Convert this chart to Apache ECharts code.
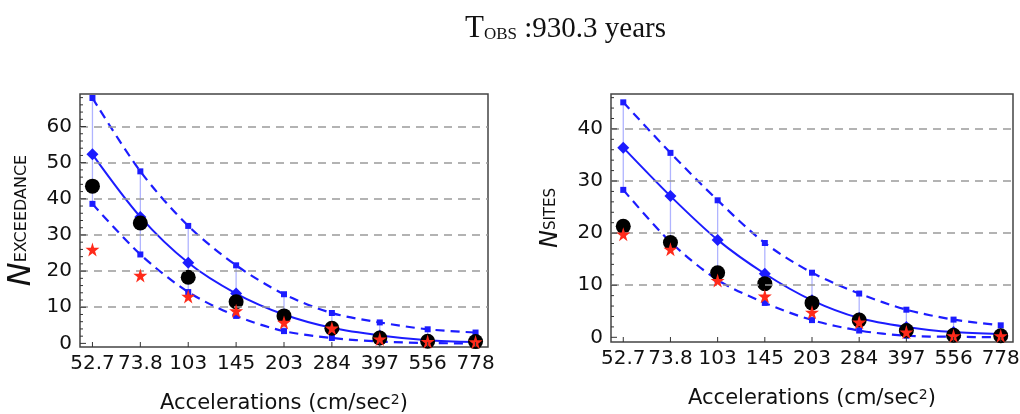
<!DOCTYPE html>
<html>
<head>
<meta charset="utf-8">
<script src="https://cdn.jsdelivr.net/npm/echarts@6/dist/echarts.min.js"></script>
<style>
html,body{margin:0;padding:0;background:#fff;}
#chart{width:1020px;height:414px;}
</style>
</head>
<body>
<div id="chart"></div>
<script>
const categories = ['52.7','73.8','103','145','203','284','397','556','778'];

// Left panel: N_EXCEEDANCE
const exMean  = [52.3, 35.0, 22.3, 13.8, 8.0, 4.3, 2.2, 0.9, 0.4];
const exUpper = [67.9, 47.6, 32.5, 21.6, 13.6, 8.4, 5.8, 3.9, 3.0];
const exLower = [38.6, 24.6, 14.2, 7.6, 3.4, 1.5, 0.5, 0.1, 0.0];
const exObs   = [43.5, 33.3, 18.3, 11.5, 7.6, 4.2, 1.5, 0.6, 0.5];
const exStar  = [26.0, 18.8, 13.0, 9.0, 5.8, 4.2, 1.2, 0.5, 0.4];
const exTicks = [0, 10, 20, 30, 40, 50, 60];
const exMinor = [2,4,6,8,12,14,16,18,22,24,26,28,32,34,36,38,42,44,46,48,52,54,56,58,62,64,66,68];
const exGrid  = [10, 20, 30, 40, 50, 60];

// Right panel: N_SITES
const stMean  = [36.4, 27.1, 18.7, 12.2, 7.1, 3.7, 2.0, 1.0, 0.6];
const stUpper = [45.1, 35.4, 26.3, 18.1, 12.4, 8.4, 5.3, 3.4, 2.3];
const stLower = [28.3, 18.3, 11.0, 6.6, 3.3, 1.3, 0.3, 0.1, 0.0];
const stObs   = [21.3, 18.2, 12.4, 10.3, 6.6, 3.3, 1.3, 0.4, 0.3];
const stStar  = [19.8, 16.9, 10.9, 7.9, 4.8, 2.9, 1.0, 0.3, 0.3];
const stTicks = [0, 10, 20, 30, 40];
const stMinor = [2,4,6,8,12,14,16,18,22,24,26,28,32,34,36,38,42,44,46];
const stGrid  = [10, 20, 30, 40];

const X_MIN = -0.26, X_MAX = 8.26;
const idx = categories.map((c, i) => i);
const pts = arr => arr.map((v, i) => [i, v]);
const STAR = 'path://M50,0 L61,35 L98,35 L68,57 L79,91 L50,70 L21,91 L32,57 L2,35 L39,35 Z';
const BLUE = '#1c1cff';
const FONT = 'DejaVu Sans';
const TXT = '#111';

function xAxisFor(g) {
  return {
    type: 'value', gridIndex: g, min: X_MIN, max: X_MAX,
    axisLine: { show: false },
    splitLine: { show: false },
    axisTick: { show: false },
    axisLabel: { customValues: idx, formatter: v => categories[Math.round(v)], fontSize: 20, fontFamily: FONT, color: TXT, margin: 7 },
    name: '{a|Accelerations (cm/sec}{b|2}{a|)}',
    nameLocation: 'middle', nameGap: 46,
    nameTextStyle: {
      rich: {
        a: { fontSize: 21, fontFamily: FONT, color: TXT },
        b: { fontSize: 14, fontFamily: FONT, color: TXT, verticalAlign: 'top', padding: [0, 0, 8, 0] }
      }
    }
  };
}
function yAxisFor(g, min, max, ticks, nameRich, gap) {
  return {
    type: 'value', gridIndex: g, min: min, max: max,
    axisLine: { show: false },
    splitLine: { show: false },
    axisTick: { show: false },
    axisLabel: { customValues: ticks, fontSize: 20, fontFamily: FONT, color: TXT, margin: 8 },
    name: nameRich.text, nameLocation: 'middle', nameGap: gap,
    nameTextStyle: { rich: nameRich.rich }
  };
}

// tick marks drawn through the axes' own coordinate conversion
function tickSeries(gi, yMin, majors, minors) {
  const data = [];
  majors.forEach(v => data.push([0, v, 6]));
  minors.forEach(v => data.push([0, v, 3]));
  idx.forEach(i => data.push([1, i, 5]));
  return {
    type: 'custom', xAxisIndex: gi, yAxisIndex: gi, z: 6, silent: true,
    data: data,
    renderItem: function (params, api) {
      const kind = api.value(0), v = api.value(1), len = api.value(2);
      let x1, y1, x2, y2;
      if (kind === 0) {
        const p = api.coord([X_MIN, v]);
        x1 = p[0]; y1 = p[1]; x2 = p[0] + len; y2 = p[1];
      } else {
        const p = api.coord([v, yMin]);
        x1 = p[0]; y1 = p[1]; x2 = p[0]; y2 = p[1] - len;
      }
      return { type: 'line', shape: { x1: x1, y1: y1, x2: x2, y2: y2 }, style: { stroke: '#333', lineWidth: 1 } };
    }
  };
}

function panelSeries(gi, mean, upper, lower, obs, star, gridVals) {
  const bars = idx.map(i => [i, lower[i], upper[i]]);
  return [
    {
      type: 'custom', xAxisIndex: gi, yAxisIndex: gi, z: 1,
      data: bars,
      renderItem: function (params, api) {
        const x = api.value(0);
        const p1 = api.coord([x, api.value(1)]);
        const p2 = api.coord([x, api.value(2)]);
        return { type: 'line', shape: { x1: p1[0], y1: p1[1], x2: p2[0], y2: p2[1] }, style: { stroke: '#b0b4ff', lineWidth: 1.3 } };
      },
      markLine: {
        silent: true, symbol: ['none', 'none'], label: { show: false },
        lineStyle: { type: [8, 6], color: '#9a9a9a', width: 1.5 },
        data: gridVals.map(v => ({ yAxis: v }))
      }
    },
    {
      type: 'line', xAxisIndex: gi, yAxisIndex: gi, z: 2, data: pts(upper), smooth: 0.3,
      symbol: 'rect', symbolSize: 6, itemStyle: { color: BLUE },
      lineStyle: { color: BLUE, width: 2.2, type: [9, 6] }
    },
    {
      type: 'line', xAxisIndex: gi, yAxisIndex: gi, z: 2, data: pts(lower), smooth: 0.3,
      symbol: 'rect', symbolSize: 6, itemStyle: { color: BLUE },
      lineStyle: { color: BLUE, width: 2.2, type: [9, 6] }
    },
    {
      type: 'line', xAxisIndex: gi, yAxisIndex: gi, z: 3, data: pts(mean), smooth: 0.3,
      symbol: 'diamond', symbolSize: 12, itemStyle: { color: BLUE },
      lineStyle: { color: BLUE, width: 2 }
    },
    {
      type: 'scatter', xAxisIndex: gi, yAxisIndex: gi, z: 4, data: pts(obs),
      symbol: 'circle', symbolSize: 15, itemStyle: { color: '#000', opacity: 1 }
    },
    {
      type: 'scatter', xAxisIndex: gi, yAxisIndex: gi, z: 5, data: pts(star),
      symbol: STAR, symbolSize: 14, itemStyle: { color: '#ff2a1a', opacity: 1 }
    }
  ];
}

const chart = echarts.init(document.getElementById('chart'), null, { renderer: 'canvas' });
chart.setOption({
  animation: false,
  backgroundColor: '#fff',
  title: {
    text: '{a|T}{b|OBS}{c| :930.3 years}',
    left: 460, top: 8,
    textStyle: {
      fontWeight: 'normal',
      rich: {
        a: { fontSize: 31, fontWeight: 'normal', fontFamily: 'Liberation Serif', color: TXT, verticalAlign: 'bottom' },
        b: { fontSize: 17, fontWeight: 'normal', fontFamily: 'Liberation Serif', color: TXT, verticalAlign: 'bottom', padding: [0, 0, 1, 0] },
        c: { fontSize: 29, fontWeight: 'normal', fontFamily: 'Liberation Serif', color: TXT, verticalAlign: 'bottom' }
      }
    }
  },
  grid: [
    { left: 80, top: 94, width: 408, height: 253, show: true, borderColor: '#444', borderWidth: 1.5, backgroundColor: 'transparent', containLabel: false, outerBoundsMode: 'none' },
    { left: 611, top: 94, width: 402, height: 248, show: true, borderColor: '#444', borderWidth: 1.5, backgroundColor: 'transparent', containLabel: false, outerBoundsMode: 'none' }
  ],
  xAxis: [xAxisFor(0), xAxisFor(1)],
  yAxis: [
    yAxisFor(0, -1, 69, exTicks, {
      text: '{n|N}{s|EXCEEDANCE}',
      rich: {
        n: { fontSize: 32, fontStyle: 'italic', fontFamily: FONT, color: TXT },
        s: { fontSize: 16, fontFamily: FONT, color: TXT }
      }
    }, 42),
    yAxisFor(1, -0.9, 46.7, stTicks, {
      text: '{n|N}{s|SITES}',
      rich: {
        n: { fontSize: 24, fontStyle: 'italic', fontFamily: FONT, color: TXT },
        s: { fontSize: 15, fontFamily: FONT, color: TXT }
      }
    }, 48)
  ],
  series: [].concat(
    panelSeries(0, exMean, exUpper, exLower, exObs, exStar, exGrid),
    [tickSeries(0, -1, exTicks, exMinor)],
    panelSeries(1, stMean, stUpper, stLower, stObs, stStar, stGrid),
    [tickSeries(1, -0.9, stTicks, stMinor)]
  )
});
</script>
</body>
</html>
